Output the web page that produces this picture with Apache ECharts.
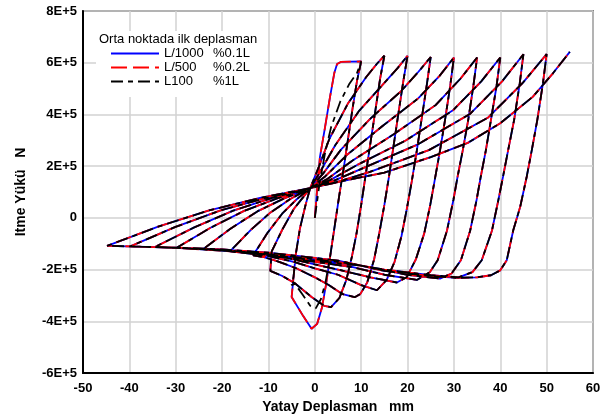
<!DOCTYPE html>
<html>
<head>
<meta charset="utf-8">
<script src="https://cdn.jsdelivr.net/npm/echarts@6/dist/echarts.min.js"></script>
<style>
  html, body { margin: 0; padding: 0; background: #fff; }
  #chart { width: 608px; height: 419px; }
</style>
</head>
<body>
<div id="chart"></div>
<script>
// yük değerleri 1E+5 N biriminde, deplasman mm
var seriesNames = ['L/1000', 'L/500', 'L100'];
var seriesRatios = ['%0.1L', '%0.2L', '%1L'];
var xTicks = [-50, -40, -30, -20, -10, 0, 10, 20, 30, 40, 50, 60];
var yTicks = [-6, -4, -2, 0, 2, 4, 6, 8];

// ilk yükleme ve çevrimler
var up10 = [[0,0],[0.5,1.1],[1.1,2.35],[2.2,3.5],[3.3,4.7],[4.2,5.6],[4.8,5.95],[5.6,6.03],[10,6.05]];
var up10Black = [[0,0],[1,1.3],[2.2,2.5],[3.5,3.5],[5.5,4.5],[7.5,5.2],[9.1,5.6],[10,6.05]];
var down10 = [[10,6.05],[9.1,5.3],[8.2,4.3],[7.2,3.1],[6.3,2.0],[5.3,0.9],[4.3,-0.3],[3.3,-1.5],[2.4,-2.6],[1.5,-3.5],[0.5,-4.1],[-0.7,-4.29],[-2.5,-3.8],[-5,-3.06]];
var down10Black = [[10,6.05],[9.1,5.3],[8.2,4.3],[7.2,3.1],[6.3,2.0],[5.3,0.9],[4.3,-0.3],[3.3,-1.5],[2.3,-2.5],[1.3,-3.15],[0.2,-3.5],[-1,-3.4],[-2.5,-3.0],[-4.3,-2.55],[-5,-2.6]];
var up15 = [[-5,-3.06],[-4.6,-2.3],[-4.1,-1.4],[-3.2,-0.4],[-2,0.5],[-1,1.15],[0.78,1.93],[3.15,3.06],[7.1,4.41],[11.05,5.44],[13.4,5.96],[15,6.27]];
var down15 = [[15,6.27],[14.1,5.4],[13.1,4.2],[12,2.9],[11,1.7],[10,0.5],[9,-0.6],[8,-1.5],[6.8,-2.4],[5.3,-3.1],[3.5,-3.45],[2,-3.4],[-0.7,-3.06],[-4.3,-2.53],[-7,-2.25],[-9.6,-2.05]];
var up20 = [[-9.6,-2.05],[-9.3,-1.3],[-7,-0.45],[-4.5,0.35],[-2.5,0.8],[-1,1.15],[1.28,1.82],[4.4,2.81],[9.6,4.15],[14.8,5.18],[17.9,5.8],[20,6.27]];
var down20 = [[20,6.27],[19.1,5.3],[18,4.0],[17,2.8],[16,1.6],[15,0.5],[13.9,-0.6],[12.8,-1.6],[11.3,-2.5],[9.8,-2.95],[8.6,-3.07],[6,-2.95],[3,-2.6],[0,-2.3],[-4,-1.95],[-8,-1.68],[-11,-1.52],[-13.3,-1.45]];
var up25 = [[-13.3,-1.45],[-10.2,-0.58],[-7.05,0.16],[-3.9,0.72],[-1,1.15],[1.78,1.71],[5.65,2.64],[12.1,3.86],[18.55,4.89],[22.4,5.66],[25,6.22]];
var down25 = [[25,6.22],[24.2,5.2],[23.1,3.9],[22,2.6],[20.9,1.4],[19.9,0.4],[18.7,-0.7],[17.2,-1.7],[15.5,-2.4],[13.4,-2.8],[10,-2.6],[5,-2.2],[0,-1.95],[-5,-1.68],[-10,-1.48],[-14,-1.38],[-18.3,-1.3]];
var up30 = [[-18.3,-1.3],[-13.9,-0.48],[-9.55,0.21],[-5.2,0.74],[-1,1.15],[2.28,1.61],[6.9,2.43],[14.6,3.55],[22.3,4.62],[26.9,5.49],[30,6.2]];
var down30 = [[30,6.2],[29.2,5.1],[28.1,3.8],[27,2.6],[25.9,1.5],[24.9,0.5],[23.6,-0.6],[21.8,-1.6],[19.8,-2.3],[17.7,-2.5],[12,-2.3],[5,-2.0],[0,-1.8],[-6,-1.55],[-12,-1.38],[-18,-1.27],[-24,-1.2]];
var up35 = [[-24,-1.2],[-18.2,-0.42],[-12.4,0.25],[-6.6,0.755],[-1,1.15],[2.78,1.51],[8.15,2.22],[17.1,3.24],[26.05,4.36],[31.4,5.38],[35,6.2]];
var down35 = [[35,6.2],[34.2,5.1],[33.1,3.8],[31.9,2.6],[30.8,1.6],[29.9,0.7],[28.5,-0.5],[26.5,-1.64],[24.8,-2.1],[22,-2.4],[15,-2.2],[8,-1.9],[0,-1.7],[-8,-1.5],[-16,-1.32],[-23,-1.22],[-29.7,-1.15]];
var up40 = [[-29.7,-1.15],[-22.5,-0.385],[-15.25,0.27],[-8,0.76],[-1,1.15],[3.28,1.46],[9.4,2.07],[19.6,2.99],[29.8,4.16],[35.9,5.28],[40,6.2]];
var down40 = [[40,6.2],[39.2,5.1],[38,3.8],[36.9,2.62],[35.8,1.6],[34.9,0.7],[33.5,-0.5],[31.5,-1.64],[29.5,-2.15],[27,-2.35],[20,-2.2],[10,-1.85],[0,-1.65],[-10,-1.42],[-20,-1.27],[-28,-1.18],[-34.4,-1.12]];
var up45 = [[-34.4,-1.12],[-26,-0.37],[-17.6,0.28],[-9.2,0.77],[-1,1.15],[3.78,1.41],[10.65,1.94],[22.1,2.83],[33.55,4.03],[40.4,5.28],[45,6.33]];
var down45 = [[45,6.33],[44.2,5.2],[43,3.8],[41.7,2.62],[40.6,1.6],[39.6,0.7],[38.2,-0.5],[36,-1.64],[34,-2.1],[31,-2.3],[25,-2.22],[15,-2.0],[5,-1.7],[0,-1.6],[-10,-1.4],[-20,-1.25],[-30,-1.16],[-39.8,-1.1]];
var up50 = [[-39.8,-1.1],[-30.05,-0.35],[-20.3,0.29],[-10.55,0.77],[-1,1.15],[4.3,1.36],[11.9,1.78],[24.6,2.62],[37.3,3.87],[44.9,5.23],[50,6.33]];
var down50 = [[50,6.33],[49.2,5.2],[48,3.8],[46.8,2.62],[45.7,1.59],[44.3,0.43],[42.8,-0.48],[41.4,-1.64],[40,-2.03],[38,-2.22],[35,-2.3],[30.7,-2.32],[25,-2.25],[15,-2.05],[5,-1.65],[0,-1.55],[-10,-1.35],[-20,-1.22],[-30,-1.15],[-44.8,-1.08]];
var up55 = [[-44.8,-1.08],[-33.8,-0.34],[-22.8,0.29],[-11.8,0.77],[-1,1.15],[8,1.5],[15,1.75],[25,2.35],[33,2.9],[40,3.66],[47,4.68],[51.4,5.6],[55,6.42]];

var laterCycles = [].concat(down15, up20, down20, up25, down25, up30, down30, up35, down35,
    up40, down40, up45, down45, up50, down50, up55);
var mainPath = [].concat(up10, down10, up15, laterCycles);
var blackPath = [].concat(up10Black, down10Black, up15.slice(1), laterCycles);

var paths = [mainPath, mainPath, blackPath];
var colors = ['#0000ff', '#ff0000', '#000000'];
var dashes = ['solid', [16, 6], [12, 5, 5, 5]];

var myChart = echarts.init(document.getElementById('chart'));

var series = seriesNames.map(function (name, i) {
    return {
        name: name,
        type: 'line',
        data: paths[i],
        symbol: 'none',
        smooth: false,
        lineStyle: { color: colors[i], width: 1.8, type: dashes[i] },
        itemStyle: { color: colors[i] },
        z: 2 + i
    };
});

var option = {
    animation: false,
    backgroundColor: '#fff',
    textStyle: { fontFamily: 'Liberation Sans, Arial, sans-serif' },
    grid: {
        left: 83, right: 15, top: 11, bottom: 46,
        show: true, borderColor: '#222', borderWidth: 1.5, backgroundColor: 'transparent'
    },
    legend: {
        orient: 'vertical',
        left: 110, top: 47, padding: 0,
        itemWidth: 48, itemHeight: 10, itemGap: 1,
        data: seriesNames,
        itemStyle: { opacity: 0 },
        formatter: function (name) {
            var i = seriesNames.indexOf(name);
            return '{a|' + name + '}{b|' + seriesRatios[i] + '}';
        },
        textStyle: {
            fontSize: 13, color: '#000', fontFamily: 'Liberation Sans', lineHeight: 13,
            rich: {
                a: { width: 49, fontSize: 13, lineHeight: 13, fontFamily: 'Liberation Sans', color: '#000' },
                b: { fontSize: 13, lineHeight: 13, fontFamily: 'Liberation Sans', color: '#000' }
            }
        }
    },
    graphic: [
        {
            type: 'rect', z: 1,
            shape: { x: 96, y: 31, width: 168, height: 66 },
            style: { fill: '#fff' }
        },
        {
            type: 'text', z: 10, left: 99, top: 33,
            style: { text: 'Orta noktada ilk deplasman', font: '13px "Liberation Sans"', fill: '#000' }
        }
    ],
    xAxis: {
        type: 'value', min: -50, max: 60, interval: 10,
        name: 'Yatay Deplasman   mm',
        nameLocation: 'middle', nameGap: 26,
        nameTextStyle: { fontSize: 14, fontWeight: 'bold', color: '#000', fontFamily: 'Liberation Sans' },
        axisLine: { onZero: false, lineStyle: { color: '#000', width: 2 } },
        axisTick: { show: false },
        axisLabel: { fontSize: 13, fontWeight: 'bold', color: '#000', margin: 9, fontFamily: 'Liberation Sans' },
        splitLine: { show: true, lineStyle: { color: '#d2d2d2', width: 1.5 } }
    },
    yAxis: {
        type: 'value', min: -6, max: 8, interval: 2,
        name: 'Itme Yükü   N',
        nameLocation: 'middle', nameGap: 55, nameRotate: 90,
        nameTextStyle: { fontSize: 14, fontWeight: 'bold', color: '#000', fontFamily: 'Liberation Sans' },
        axisLine: { onZero: false, lineStyle: { color: '#000', width: 2 } },
        axisTick: { show: false },
        axisLabel: {
            fontSize: 13, fontWeight: 'bold', color: '#000', margin: 6, fontFamily: 'Liberation Sans',
            formatter: function (v) { return v === 0 ? '0' : v + 'E+5'; }
        },
        splitLine: { show: true, lineStyle: { color: '#d2d2d2', width: 1.5 } }
    },
    series: series
};

myChart.setOption(option);
</script>
</body>
</html>
